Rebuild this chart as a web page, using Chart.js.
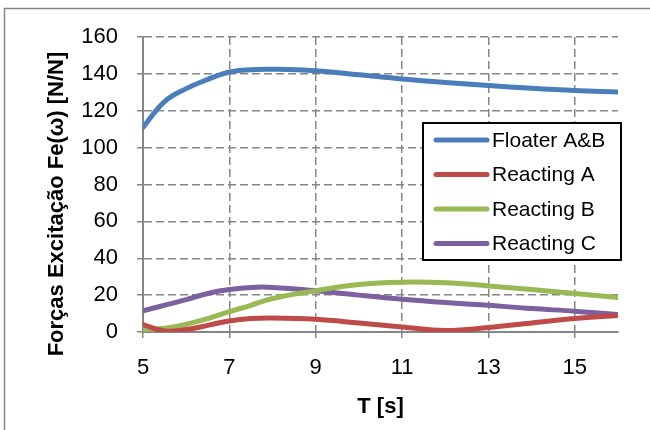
<!DOCTYPE html>
<html>
<head>
<meta charset="utf-8">
<script src="https://cdn.jsdelivr.net/npm/chart.js@4/dist/chart.umd.min.js"></script>
<style>
  html, body { margin: 0; padding: 0; background: #fff; }
  #wrap { width: 650px; height: 430px; position: relative; }
</style>
</head>
<body>
<div id="wrap"><canvas id="grafico" width="650" height="430"></canvas></div>
<script>
// periodo T [s]
const periodos   = [5, 5.5, 6, 6.5, 7, 7.5, 8, 9, 10, 11, 12, 13, 14, 15, 16];
const floaterAB  = [111, 125, 132, 137, 141, 142.3, 142.5, 141.7, 139.5, 137.2, 135.3, 133.7, 132.2, 131, 130.2];
const reactingA  = [4, 0.5, 1.3, 3.6, 6, 7.3, 7.6, 6.9, 4.9, 2.7, 0.8, 2.4, 4.9, 7.3, 9];
const reactingB  = [1.3, 2, 4.2, 7.3, 11, 14.5, 18.2, 22.4, 25.8, 27, 26.7, 25, 23, 20.9, 18.7];
const reactingC  = [11.5, 14.5, 17.6, 20.9, 23, 24.2, 24.2, 22.4, 20, 17.8, 16, 14.5, 12.7, 11.3, 9.5];
const nomes      = ['Floater A&B', 'Reacting A', 'Reacting B', 'Reacting C'];
const cores      = ['#4A7EBB', '#BE4B48', '#98B954', '#7D60A0'];
const xTicks     = [5, 7, 9, 11, 13, 15];
const yMin = 0, yMax = 160, yStep = 20;
const tituloX = 'T [s]';
const tituloY = 'Forças Excitação Fe(ω) [N/N]';

const FONTE = "'Liberation Sans', Arial, sans-serif";
const cinza = '#868686';

const toPts = arr => arr.map((v, i) => ({ x: periodos[i], y: v }));
const series = [floaterAB, reactingA, reactingB, reactingC];

// moldura, titulos dos eixos e legenda desenhados a mao
const extras = {
  id: 'extras',
  beforeDraw(chart) {
    const ctx = chart.ctx;
    ctx.save();
    ctx.strokeStyle = cinza;
    ctx.lineWidth = 1.5;
    ctx.strokeRect(4.5, 8.5, 800, 600);
    ctx.restore();
  },
  afterDraw(chart) {
    const ctx = chart.ctx;
    const area = chart.chartArea;
    ctx.save();
    ctx.fillStyle = '#000';
    ctx.font = `bold 22px ${FONTE}`;
    ctx.textAlign = 'center';
    ctx.textBaseline = 'middle';
    ctx.fillText(tituloX, (area.left + area.right) / 2, 407);
    ctx.translate(57, 204);
    ctx.rotate(-Math.PI / 2);
    ctx.fillText(tituloY, 0, 0);
    ctx.restore();

    // legenda
    ctx.save();
    ctx.fillStyle = '#fff';
    ctx.fillRect(423, 123, 198, 137);
    ctx.strokeStyle = '#000';
    ctx.lineWidth = 2;
    ctx.strokeRect(423, 123, 198, 137);
    ctx.font = `21px ${FONTE}`;
    ctx.textAlign = 'left';
    ctx.textBaseline = 'middle';
    chart.data.datasets.forEach((ds, i) => {
      const y = 140 + i * 34.5;
      ctx.strokeStyle = ds.borderColor;
      ctx.lineWidth = 5;
      ctx.lineCap = 'round';
      ctx.beginPath();
      ctx.moveTo(436, y);
      ctx.lineTo(487, y);
      ctx.stroke();
      ctx.fillStyle = '#000';
      ctx.fillText(ds.label, 492, y + 1);
    });
    ctx.restore();
  }
};

new Chart(document.getElementById('grafico'), {
  type: 'line',
  data: {
    datasets: series.map((s, i) => ({
      label: nomes[i],
      data: toPts(s),
      borderColor: cores[i],
      backgroundColor: cores[i],
      borderWidth: 5,
      borderCapStyle: 'round',
      borderJoinStyle: 'round',
      pointRadius: 0,
      tension: 0.4,
      fill: false
    }))
  },
  options: {
    responsive: false,
    animation: false,
    devicePixelRatio: 1,
    layout: { padding: { top: 37, right: 32, left: 0, bottom: 0 } },
    plugins: { legend: { display: false }, tooltip: { enabled: false } },
    scales: {
      x: {
        type: 'linear', min: 5, max: 16,
        afterBuildTicks: s => { s.ticks = xTicks.map(v => ({ value: v })); },
        afterFit: s => { s.height = 98; },
        grid: { color: cinza, lineWidth: 1.5, tickLength: 6, tickColor: cinza, tickWidth: 1.5 },
        border: { color: cinza, width: 2, dash: [8, 4] },
        ticks: { color: '#000', font: { size: 22, family: FONTE }, padding: 17, maxRotation: 0 }
      },
      y: {
        min: yMin, max: yMax,
        afterFit: s => { s.width = 143; },
        grid: { color: cinza, lineWidth: 1.5, tickLength: 6, tickColor: cinza, tickWidth: 1.5 },
        border: { color: cinza, width: 2, dash: [8, 4] },
        ticks: { stepSize: yStep, color: '#000', font: { size: 22, family: FONTE }, padding: 19 }
      }
    }
  },
  plugins: [extras]
});
</script>
</body>
</html>
